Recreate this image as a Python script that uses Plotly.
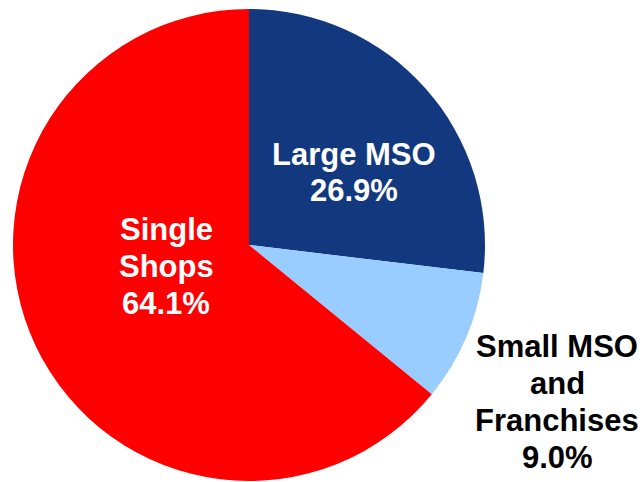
import plotly.graph_objects as go

labels = ["Large MSO", "Small MSO<br>and<br>Franchises", "Single<br>Shops"]
values = [26.9, 9.0, 64.1]
colors = ["#12387F", "#99CCFF", "#FF0000"]
text_colors = ["white", "black", "white"]

W, H = 644, 482
# label block centers in screen pixels
centers = [(354, 172.5), (557, 401.5), (166, 266)]
pitch = 37


def px_x(p):
    return p / W


def px_y(p):
    return 1 - p / H


fig = go.Figure(go.Pie(
    labels=labels,
    values=values,
    marker=dict(colors=colors, line=dict(width=0)),
    sort=False,
    direction="clockwise",
    rotation=0,
    textinfo="none",
    hoverinfo="label+percent",
    domain=dict(x=[px_x(11), px_x(487)], y=[px_y(481), px_y(9)]),
    showlegend=False,
))

annotations = []
for lab, val, col, (cx, cy) in zip(labels, values, text_colors, centers):
    lines = lab.split("<br>") + [f"{val:.1f}%"]
    n = len(lines)
    for i, line in enumerate(lines):
        py = cy + (i - (n - 1) / 2) * pitch
        annotations.append(dict(
            x=px_x(cx), y=px_y(py), xref="paper", yref="paper",
            text=f"<b>{line}</b>", showarrow=False,
            xanchor="center", yanchor="middle",
            font=dict(family="Liberation Sans, Arial, sans-serif", size=31, color=col),
        ))

fig.update_layout(
    width=W, height=H,
    margin=dict(l=0, r=0, t=0, b=0),
    paper_bgcolor="white",
    plot_bgcolor="white",
    annotations=annotations,
)

fig.write_html(
    "out.html",
    config={"displayModeBar": False},
    post_script="document.body.style.margin='0';document.body.style.overflow='hidden';",
)
